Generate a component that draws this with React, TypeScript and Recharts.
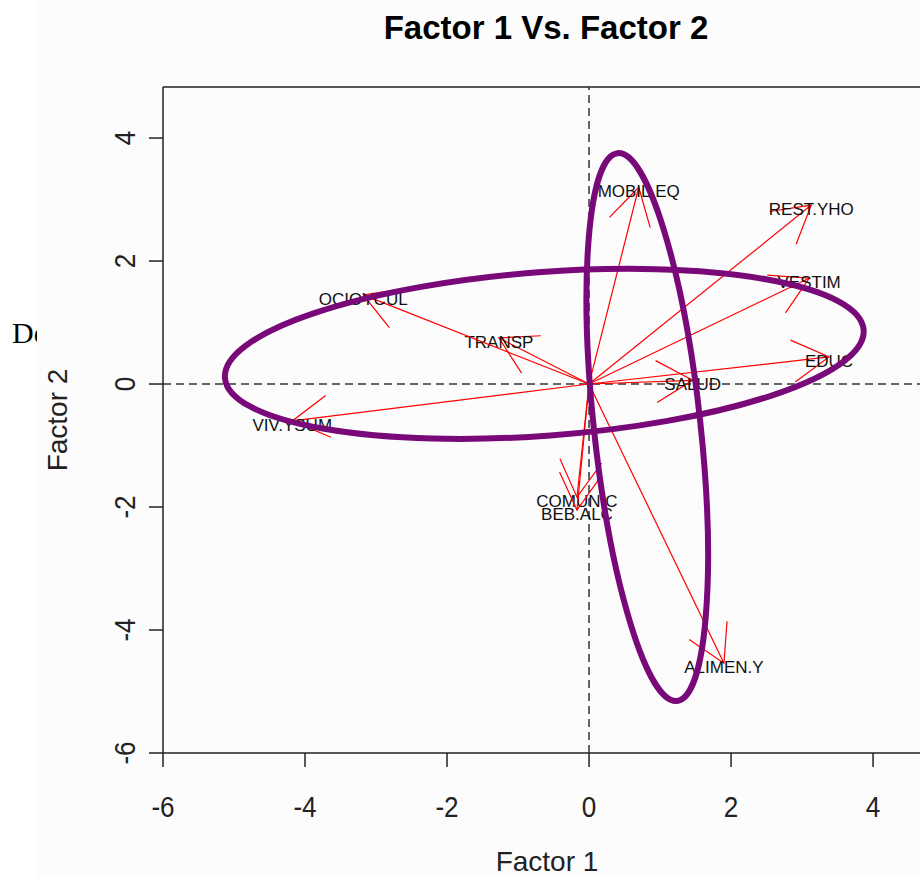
import React from 'react';
import { ComposedChart, XAxis, YAxis, ReferenceLine } from 'recharts';

// loadings (arrow tips)
const variables = ['MOBIL.EQ', 'REST.YHO', 'VESTIM', 'EDUC', 'SALUD', 'TRANSP', 'OCIOYCUL', 'VIV.YSUM', 'COMUNIC', 'BEB.ALC', 'ALIMEN.Y'];
const factor1 = [0.70, 3.13, 3.10, 3.38, 1.46, -1.27, -3.18, -4.18, -0.17, -0.17, 1.90];
const factor2 = [3.20, 2.91, 1.72, 0.44, 0.06, 0.75, 1.45, -0.60, -1.84, -2.05, -4.54];

const xTicks = [-6, -4, -2, 0, 2, 4];
const yTicks = [-6, -4, -2, 0, 2, 4];
const xDomain = [-6, 4.83];
const yDomain = [-6, 4.83];

// hand-drawn purple ellipses: centre, half-width, half-height (axis units), tilt (deg)
const ellipseCx = [-0.63, 0.82];
const ellipseCy = [0.49, -0.70];
const ellipseRx = [4.51, 0.75];
const ellipseRy = [1.33, 4.48];
const ellipseTilt = [-4.3, -6.2];

const data = variables.map((name, i) => ({ name, f1: factor1[i], f2: factor2[i] }));

const FONT = '"Liberation Sans", Arial, Helvetica, sans-serif';

const arrowShape = (label: string) => (props: any) => {
  const { x1, y1, x2, y2 } = props;
  const back = Math.atan2(y1 - y2, x1 - x2);
  const len = 42;
  const spread = Math.PI / 6;
  const ax = x2 + len * Math.cos(back - spread);
  const ay = y2 + len * Math.sin(back - spread);
  const bx = x2 + len * Math.cos(back + spread);
  const by = y2 + len * Math.sin(back + spread);
  return (
    <g>
      <line x1={x1} y1={y1} x2={x2} y2={y2} stroke="#ff0000" strokeWidth={1.2} />
      <polyline points={`${ax},${ay} ${x2},${y2} ${bx},${by}`} fill="none" stroke="#ff0000" strokeWidth={1.2} />
      <text x={x2} y={y2 + 10} textAnchor="middle" fontSize={17} fontFamily={FONT} fill="#111">
        {label}
      </text>
    </g>
  );
};

const ellipseShape = (tilt: number) => (props: any) => {
  const { x1, y1, x2, y2 } = props;
  const cx = (x1 + x2) / 2;
  const cy = (y1 + y2) / 2;
  return (
    <ellipse
      cx={cx}
      cy={cy}
      rx={Math.abs(x2 - x1) / 2}
      ry={Math.abs(y2 - y1) / 2}
      transform={`rotate(${tilt} ${cx} ${cy})`}
      fill="none"
      stroke="#790879"
      strokeWidth={6}
    />
  );
};

const XTick = (props: any) => {
  const { x, y, payload } = props;
  return (
    <text transform={`translate(${x},${y + 48}) scale(0.9,1)`} textAnchor="middle" fontSize={29} fontFamily={FONT} fill="#222">
      {payload.value}
    </text>
  );
};

const YTick = (props: any) => {
  const { x, y, payload } = props;
  return (
    <text transform={`translate(${x - 12},${y}) rotate(-90) scale(0.9,1)`} textAnchor="middle" fontSize={29} fontFamily={FONT} fill="#222">
      {payload.value}
    </text>
  );
};

export default function App() {
  return (
    <div style={{ position: 'absolute', left: 0, top: 0, width: 920, height: 877, overflow: 'hidden', background: '#fff' }}>
      <div style={{ position: 'absolute', left: 0, top: 0, width: 37, height: 877, overflow: 'hidden' }}>
        <div style={{ position: 'absolute', left: 12, top: 316, fontFamily: '"Liberation Serif", "Times New Roman", serif', fontSize: 30, lineHeight: '34px', whiteSpace: 'nowrap' }}>
          De
        </div>
      </div>
      <div style={{ position: 'absolute', left: 37, top: 0, width: 883, height: 877, background: '#fcfcfc' }} />

      <div style={{ position: 'absolute', left: 546, top: 28, transform: 'translate(-50%, -50%)', fontFamily: FONT, fontWeight: 'bold', fontSize: 33, whiteSpace: 'nowrap', color: '#000' }}>
        Factor 1 Vs. Factor 2
      </div>
      <div style={{ position: 'absolute', left: 547, top: 862, transform: 'translate(-50%, -50%)', fontFamily: FONT, fontSize: 28, whiteSpace: 'nowrap', color: '#222' }}>
        Factor 1
      </div>
      <div style={{ position: 'absolute', left: 58, top: 420, transform: 'translate(-50%, -50%) rotate(-90deg)', fontFamily: FONT, fontSize: 28, whiteSpace: 'nowrap', color: '#222' }}>
        Factor 2
      </div>

      <div style={{ position: 'absolute', left: 0, top: 0 }}>
        <ComposedChart width={960} height={877} data={data} margin={{ top: 87, right: 28, bottom: 64, left: 103 }}>
          <XAxis
            dataKey="f1"
            type="number"
            domain={xDomain}
            ticks={xTicks}
            allowDataOverflow
            height={60}
            tickSize={14}
            tickLine={{ stroke: '#222', strokeWidth: 1.5 }}
            axisLine={{ stroke: '#222', strokeWidth: 1.5 }}
            tick={<XTick />}
          />
          <YAxis
            dataKey="f2"
            type="number"
            domain={yDomain}
            ticks={yTicks}
            allowDataOverflow
            width={60}
            tickSize={14}
            tickLine={{ stroke: '#222', strokeWidth: 1.5 }}
            axisLine={{ stroke: '#222', strokeWidth: 1.5 }}
            tick={<YTick />}
          />
          {/* top of the plot box */}
          <ReferenceLine y={yDomain[1]} stroke="#222" strokeWidth={1.5} />
          <ReferenceLine x={0} stroke="#333" strokeWidth={1.5} strokeDasharray="8 5" />
          <ReferenceLine y={0} stroke="#333" strokeWidth={1.5} strokeDasharray="8 5" />

          {variables.map((name, i) => (
            <ReferenceLine
              key={name}
              segment={[{ x: 0, y: 0 }, { x: factor1[i], y: factor2[i] }]}
              shape={arrowShape(name)}
            />
          ))}

          {ellipseCx.map((cx, i) => (
            <ReferenceLine
              key={`ellipse-${i}`}
              segment={[
                { x: cx - ellipseRx[i], y: ellipseCy[i] - ellipseRy[i] },
                { x: cx + ellipseRx[i], y: ellipseCy[i] + ellipseRy[i] },
              ]}
              shape={ellipseShape(ellipseTilt[i])}
            />
          ))}
        </ComposedChart>
      </div>
    </div>
  );
}
